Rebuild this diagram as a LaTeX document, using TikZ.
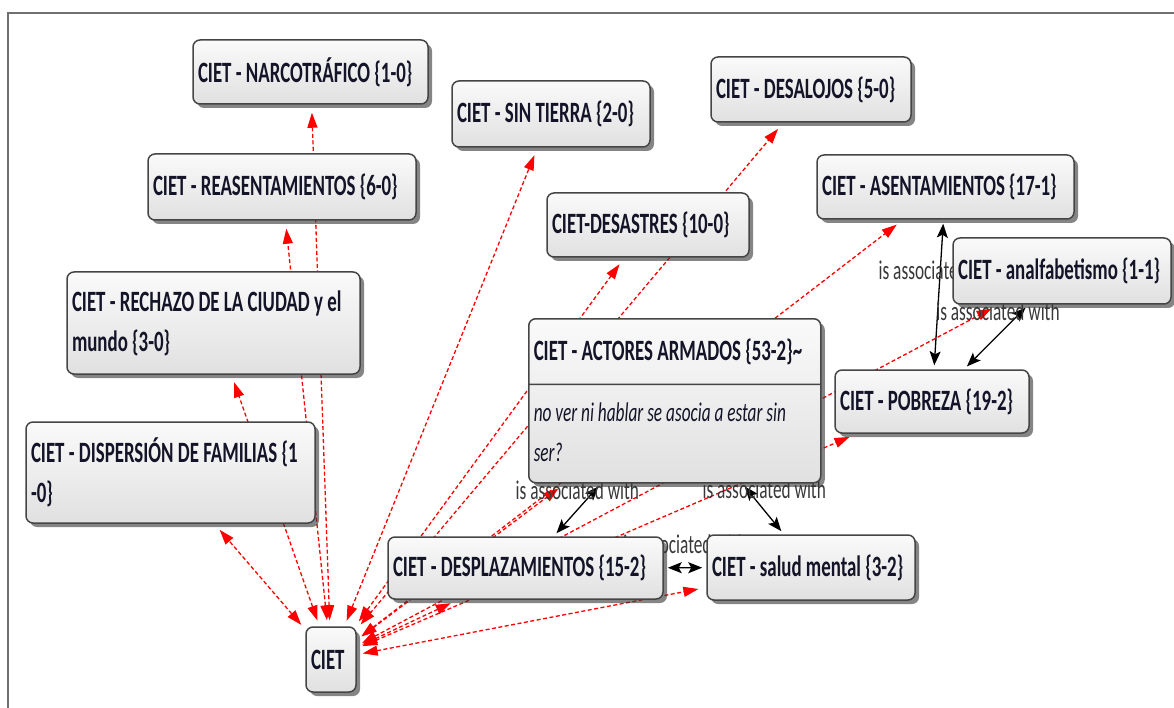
\documentclass[tikz,border=0pt]{standalone}
\usepackage{fontspec}
\newfontfamily\cfont{Carlito}[FakeStretch=0.64]
\usetikzlibrary{arrows.meta,shapes.multipart,shadows}
\pgfdeclarelayer{bg}
\pgfsetlayers{bg,main}
\definecolor{boxline}{HTML}{454545}
\definecolor{txt}{HTML}{141428}
\definecolor{lbl}{HTML}{383838}
\definecolor{redline}{HTML}{FF0000}
\definecolor{framecol}{HTML}{707070}
\tikzset{
  box/.style={draw=boxline, line width=1.5pt, rounded corners=7pt,
    top color=black!2, bottom color=black!12,
    drop shadow={shadow xshift=4pt, shadow yshift=-4pt, fill=black!80, opacity=0.6},
    inner xsep=5pt, inner ysep=0pt, align=flush left, text=txt,
    font=\cfont\bfseries\fontsize{29.5}{40}\selectfont},
  rel/.style={draw=redline, line width=1.3pt, dash pattern=on 4pt off 2.5pt,
    >={Triangle[length=15pt,width=10pt]}, <->,
    shorten <=6pt, shorten >=8pt},
  assoc/.style={draw=black, line width=1.3pt,
    >={Stealth[length=14pt,width=11pt,inset=3pt]}, <->,
    shorten <=4pt, shorten >=4pt},
  lab/.style={text=lbl, font=\cfont\fontsize{27}{30}\selectfont, inner sep=0pt},
}
\begin{document}
\begin{tikzpicture}[x=1pt,y=-1pt]
\useasboundingbox (0,0) rectangle (1174,708);
\draw[framecol, line width=1.5pt] (8,708) -- (8,13) -- (1174,13);

% nodes
\node[box, minimum width=235pt, minimum height=64pt, text width=225pt] (narco) at (310.5,72) {\mbox{CIET - NARCOTRÁFICO \{1-0\}}};
\node[box, minimum width=198pt, minimum height=66pt, text width=188pt] (sint) at (551,114) {\mbox{CIET - SIN TIERRA \{2-0\}}};
\node[box, minimum width=200pt, minimum height=65pt, text width=190pt] (desal) at (811,89.5) {\mbox{CIET - DESALOJOS \{5-0\}}};
\node[box, minimum width=268pt, minimum height=66pt, text width=258pt] (reas) at (282,187) {\mbox{CIET - REASENTAMIENTOS \{6-0\}}};
\node[box, minimum width=202pt, minimum height=64pt, text width=192pt] (desas) at (648,225) {\mbox{CIET-DESASTRES \{10-0\}}};
\node[box, minimum width=257pt, minimum height=64pt, text width=247pt] (asent) at (945.5,187) {\mbox{CIET - ASENTAMIENTOS \{17-1\}}};
\node[box, minimum width=194pt, minimum height=63pt, text width=184pt] (pob) at (932,401.5) {\mbox{CIET - POBREZA \{19-2\}}};
\node[box, minimum width=218pt, minimum height=66pt, text width=208pt] (analf) at (1062,271) {\mbox{CIET - analfabetismo \{1-1\}}};
\node[box, minimum width=293pt, minimum height=102pt, text width=283pt] (rech) at (213.5,323) {\mbox{CIET - RECHAZO DE LA CIUDAD y el}\\\mbox{mundo \{3-0\}}};
\node[box, minimum width=289pt, minimum height=101pt, text width=279pt] (disp) at (170.5,472.5) {\mbox{CIET - DISPERSIÓN DE FAMILIAS \{1}\\\mbox{-0\}}};
\node[box, rectangle split, rectangle split parts=2, anchor=north west, text width=282pt] (act) at (528,318)
  {\mbox{\rule[-23pt]{0pt}{64pt}CIET - ACTORES ARMADOS \{53-2\}\textasciitilde}
   \nodepart{two}\fontsize{27}{38}\selectfont\mdseries\itshape
   \mbox{\rule{0pt}{36pt}no ver ni hablar se asocia a estar sin}\\\mbox{ser?\rule[-21pt]{0pt}{21pt}}};
\node[box, minimum width=275pt, minimum height=62pt, text width=265pt] (despl) at (525.5,568) {\mbox{CIET - DESPLAZAMIENTOS \{15-2\}}};
\node[box, minimum width=208pt, minimum height=65pt, text width=198pt] (salud) at (811,567.5) {\mbox{CIET - salud mental \{3-2\}}};
\node[box, minimum width=50pt, minimum height=65pt, text width=40pt] (ciet) at (331,659.5) {\mbox{CIET}};

% connectors
\begin{pgfonlayer}{bg}
\foreach \t in {narco,reas,rech,disp,sint,desal,desas,asent,analf,pob,act,despl,salud}
  \draw[rel] (ciet) -- (\t);
\draw[assoc] (asent) -- node[lab, pos=0.34] (l1) {is associated with} (pob);
\draw[assoc] (analf) -- node[lab, pos=0.1, xshift=-24pt] (l2) {is associated with} (pob);
\draw[assoc] (act) -- node[lab, pos=0.12, xshift=-18pt] (l3) {is associated with} (despl);
\draw[assoc] (act) -- node[lab, pos=0.12, xshift=17pt] (l4) {is associated with} (salud);
\draw[assoc] (despl) -- node[lab, pos=0.5, yshift=23pt] (l5) {is associated with} (salud);
\end{pgfonlayer}
\end{tikzpicture}
\end{document}
